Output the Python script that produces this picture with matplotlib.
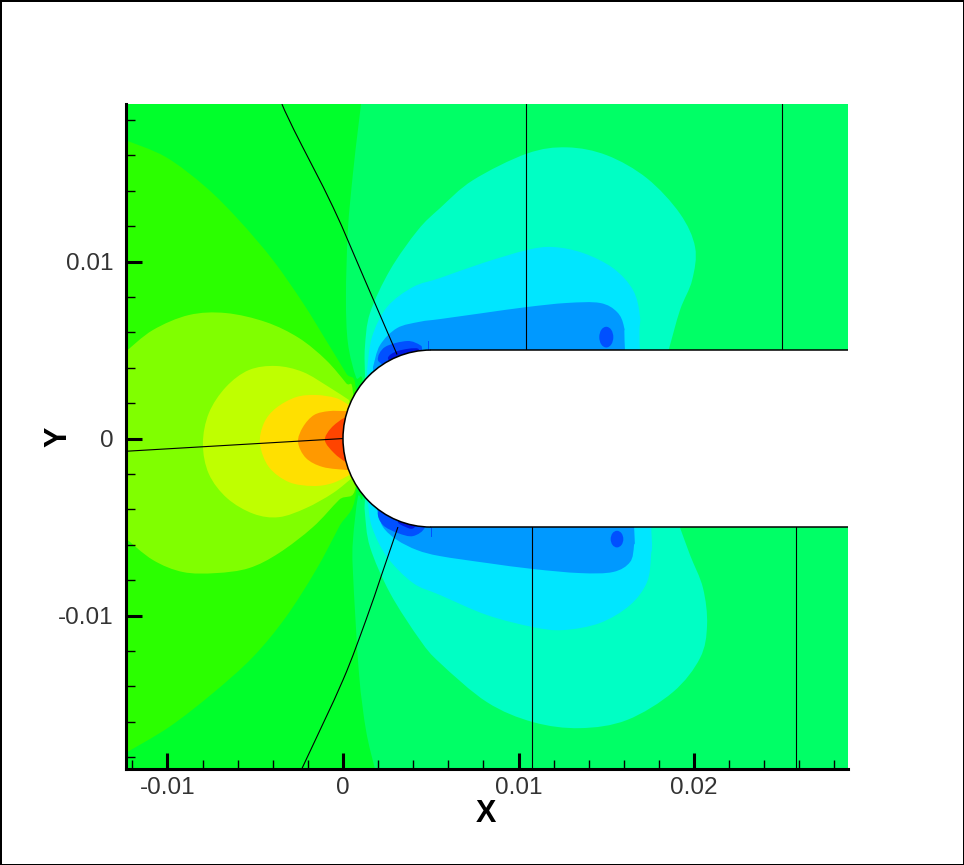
import numpy as np
import matplotlib
matplotlib.use("Agg")
import matplotlib.pyplot as plt
from matplotlib.patches import Ellipse, Circle, Rectangle, Arc, PathPatch
from matplotlib.path import Path

# ---- data, in units of 1e-3 -------------------------------------------------
band_a_x = [1.03, .85, .57, .28, .17, .28, .74, 1.14, 1.14, .85, .57, .57, .91, 1.31, 1.82]
band_a_y = [18.9, 17.43, 15.0, 11.78, 8.0, 5.4, 3.47, 3.0, -3.0, -3.3, -5.73, -7.6, -13.25, -16.47, -18.67]
band_b_x = [-12.4, -10.09, -7.81, -5.93, -3.99, -2.28, -.97, .17, .74, .74, -.23, -1.54, -3.25, -5.13, -7.41, -9.91, -12.4]
band_b_y = [16.86, 15.9, 14.2, 12.34, 10.08, 7.66, 5.56, 3.7, 2.74, -3.08, -5.0, -7.43, -10.08, -12.34, -14.38, -16.3, -17.77]
band_c_x = [-12.4, -10.83, -8.77, -6.67, -4.39, -2.51, -.97, .17, .57, .74, -.23, -1.71, -3.65, -5.36, -7.24, -9.12, -10.83, -12.4]
band_c_y = [4.89, 6.13, 6.98, 7.09, 6.58, 5.68, 4.44, 3.14, 2.57, -2.63, -3.47, -5.0, -6.47, -7.32, -7.6, -7.54, -6.86, -5.62]
band_d_x = [.34, -.8, -2.28, -3.82, -5.36, -6.67, -7.64, -7.98, -7.64, -6.6, -5.1, -3.65, -2.11, -.57, .57]
band_d_y = [2.18, 2.91, 3.76, 4.1, 3.87, 2.91, 1.44, -.3, -2.0, -3.37, -4.25, -4.44, -3.93, -3.08, -2.18]
band_e_x = [.34, -.4, -1.54, -2.68, -3.82, -4.5, -4.73, -4.22, -3.08, -1.71, -.57, .57]
band_e_y = [1.89, 2.29, 2.46, 2.34, 1.72, .88, -.3, -1.61, -2.46, -2.68, -2.51, -1.95]
band_f_x = [.5, .17, -.8, -1.65, -2.28, -2.56, -2.11, -1.14, .28, .5]
band_f_y = [1.55, 1.55, 1.55, 1.33, .65, -.2, -1.1, -1.61, -1.78, -1.78]
band_g_x = [.5, .06, -.68, -1.03, -.51, .17, .5]
band_g_y = [1.16, 1.16, .59, -.1, -.82, -1.33, -1.33]

aqua_x = [1.25, 1.25, 1.54, 2.68, 4.27, 5.53, 7.41, 10.48, 12.76, 15.04, 17.32, 19.2, 20.06, 19.89, 19.2, 18.52, 17.9,
          18.5, 19.15, 19.77, 20.51, 20.74, 20.34, 18.8, 16.18, 13.5, 10.83, 8.2, 5.53, 4.39, 2.68, 1.54, 1.25, 1.25]
aqua_y = [3.7, 5.17, 7.09, 9.52, 11.78, 13.02, 14.6, 16.1, 16.45, 16.0, 14.7, 12.7, 10.8, 8.95, 7.26, 4.9, 2.9,
          -3.2, -4.9, -6.58, -8.45, -10.54, -12.4, -14.32, -15.9, -16.36, -16.02, -14.89, -12.68, -11.38, -8.73, -6.13, -4.21, -3.47]
cyan_x = [1.37, 1.65, 2.51, 3.99, 5.53, 7.98, 10.48, 11.97, 13.68, 15.38, 16.52, 16.92, 16.92,
          17.55, 17.55, 17.32, 16.35, 14.64, 12.54, 10.83, 8.2, 5.53, 3.99, 2.51, 1.65, 1.42]
cyan_y = [3.87, 5.73, 7.43, 8.56, 9.07, 9.92, 10.65, 10.82, 10.48, 9.63, 8.39, 6.87, 4.9,
          -4.9, -6.58, -8.11, -9.41, -10.42, -10.82, -10.65, -9.97, -8.84, -8.16, -6.69, -5.0, -3.64]
blue_x = [1.71, 2.11, 3.08, 4.39, 5.53, 7.98, 10.48, 12.76, 14.64, 15.61, 16.01, 16.07,
          16.58, 16.58, 16.35, 15.38, 13.5, 10.83, 8.2, 5.53, 4.22, 3.08, 2.28, 1.94]
blue_y = [4.04, 5.28, 6.24, 6.6, 6.75, 7.09, 7.43, 7.66, 7.66, 7.15, 6.3, 4.9,
          -4.9, -6.02, -6.98, -7.54, -7.6, -7.37, -7.03, -6.64, -6.3, -5.73, -5.0, -4.04]
deep_top_x = [2.6, 1.99, 2.39, 3.65, 4.39, 4.50, 4.5]
deep_top_y = [4.0, 4.44, 5.17, 5.51, 5.28, 5.0, 4.0]
deep_bot_x = [2.6, 1.99, 2.28, 3.13, 3.99, 4.67, 4.5]
deep_bot_y = [-3.5, -4.15, -4.89, -5.34, -5.51, -5.0, -4.0]
navy_top_x = [3.0, 2.56, 3.13, 4.27, 4.27]
navy_top_y = [4.0, 4.55, 4.95, 5.08, 4.5]
navy_bot_x = [3.5, 3.13, 3.53, 3.99, 4.4]
navy_bot_y = [-4.4, -4.72, -4.98, -5.08, -4.6]

spot_x = [15.0, 15.61]
spot_y = [5.73, -5.68]
spot_w = [.80, .72]
spot_h = [1.17, .94]

nose_radius = 5.0

grid_1_x = [-3.48, -2.79, -.57, 1.25, 3.08]
grid_1_y = [18.9, 17.43, 13.08, 8.95, 4.75]
grid_2_x = [-12.4, 0.0]
grid_2_y = [-.72, 0.0]
grid_3_x = [-2.34, -2.11, 0.0, 1.31, 2.2, 3.13]
grid_3_y = [-18.64, -18.16, -13.64, -10.25, -7.7, -5.0]
grid_vertical_top = [10.4, 25.03]
grid_vertical_bot = [10.74, 25.82]
mark_x = [4.82, 5.0]
mark_top_y = [5.0, 5.5]
mark_bot_y = [-5.0, -5.5]

x_major = [-10, 0, 10, 20]
y_major = [-10, 0, 10]
x_labels = ["-0.01", "0", "0.01", "0.02"]
y_labels = ["-0.01", "0", "0.01"]
x_min, x_max = -12.39, 28.77
y_min, y_max = -18.64, 18.90

C_BASE = "#00FF66"
C_A, C_B, C_C, C_D, C_E, C_F, C_G = "#00FF2B", "#2BFF00", "#80FF00", "#BFFF00", "#FFE000", "#FF9900", "#FF4400"
C_AQUA, C_CYAN, C_BLUE, C_DEEP, C_NAVY = "#00FFC4", "#00E6FF", "#0099FF", "#0050FF", "#0018E0"

# ---- figure -----------------------------------------------------------------
fig = plt.figure(figsize=(9.64, 8.65), dpi=100)
fig.patch.set_facecolor("white")
fig.patch.set_edgecolor("black")
fig.patch.set_linewidth(2)
ax = fig.add_axes([125.5/964, 1-768.5/865, (848-125.5)/964, (768.5-104)/865])
ax.set_facecolor(C_BASE)
ax.set_xlim(x_min, x_max)
ax.set_ylim(y_min, y_max)


def curve_path(xs, ys, tail=(), closed=True):
    """Bezier outline running through the read points; tail points are straight."""
    pts = np.column_stack([xs, ys]).astype(float)
    verts, codes = [pts[0]], [Path.MOVETO]
    n = len(pts)
    for i in range(n - 1):
        p0 = pts[max(i - 1, 0)]
        p1, p2 = pts[i], pts[i + 1]
        p3 = pts[min(i + 2, n - 1)]
        verts += [p1 + (p2 - p0) / 6, p2 - (p3 - p1) / 6, p2]
        codes += [Path.CURVE4] * 3
    for q in tail:
        verts.append(np.array(q, float))
        codes.append(Path.LINETO)
    if closed:
        verts.append(pts[0])
        codes.append(Path.CLOSEPOLY)
    return Path(np.array(verts), codes)


def band(xs, ys, color, tail=()):
    ax.add_patch(PathPatch(curve_path(xs, ys, tail=tail), fc=color, ec="none", lw=0, zorder=2))


def line(xs, ys):
    ax.add_patch(PathPatch(curve_path(xs, ys, closed=False), fc="none", ec="black", lw=0.8, zorder=3))


band(band_a_x, band_a_y, C_A, tail=[(x_min - 1, y_min - 1), (x_min - 1, y_max + 1)])
band(band_b_x, band_b_y, C_B)
band(band_c_x, band_c_y, C_C)
band(band_d_x, band_d_y, C_D)
band(band_e_x, band_e_y, C_E)
band(band_f_x, band_f_y, C_F)
band(band_g_x, band_g_y, C_G)
band(aqua_x, aqua_y, C_AQUA)
band(cyan_x, cyan_y, C_CYAN)
band(blue_x, blue_y, C_BLUE)
band(deep_top_x, deep_top_y, C_DEEP)
band(deep_bot_x, deep_bot_y, C_DEEP)
band(navy_top_x, navy_top_y, C_NAVY)
band(navy_bot_x, navy_bot_y, C_NAVY)
for sx, sy, sw, sh in zip(spot_x, spot_y, spot_w, spot_h):
    ax.add_patch(Ellipse((sx, sy), sw, sh, color=C_DEEP, lw=0, zorder=2))
ax.plot([mark_x[0]] * 2, mark_top_y, color=C_DEEP, lw=0.7, zorder=2.5)
ax.plot([mark_x[1]] * 2, mark_bot_y, color=C_DEEP, lw=0.7, zorder=2.5)

# grid lines
line(grid_1_x, grid_1_y)
line(grid_2_x, grid_2_y)
line(grid_3_x, grid_3_y)
for vx in grid_vertical_top:
    ax.plot([vx, vx], [nose_radius, y_max], color="black", lw=0.8, zorder=3)
for vx in grid_vertical_bot:
    ax.plot([vx, vx], [y_min, -nose_radius], color="black", lw=0.8, zorder=3)

# the blunt body
ax.add_patch(Circle((nose_radius, 0), nose_radius, fc="white", ec="none", zorder=4))
ax.add_patch(Rectangle((nose_radius, -nose_radius), x_max - nose_radius, 2*nose_radius,
                       fc="white", ec="none", zorder=4))
ax.add_patch(Arc((nose_radius, 0), 2*nose_radius, 2*nose_radius, theta1=90, theta2=270,
                 color="black", lw=1.1, zorder=5))
ax.plot([nose_radius, x_max], [nose_radius, nose_radius], color="black", lw=1.1, zorder=5)
ax.plot([nose_radius, x_max], [-nose_radius, -nose_radius], color="black", lw=1.1, zorder=5)

# axes
for s in ["top", "right"]:
    ax.spines[s].set_visible(False)
for s in ["left", "bottom"]:
    ax.spines[s].set_linewidth(2.2)
    ax.spines[s].set_zorder(8)
ax.xaxis.set_zorder(7)
ax.yaxis.set_zorder(7)
ax.set_xticks(x_major)
ax.set_xticklabels(x_labels)
ax.set_yticks(y_major)
ax.set_yticklabels(y_labels)
ax.set_xticks(np.arange(-12, 29, 2), minor=True)
ax.set_yticks(np.arange(-18, 19, 2), minor=True)
ax.tick_params(which="major", direction="in", length=11.5, width=2.2, labelsize=17.5,
               labelfontfamily="Liberation Sans", labelcolor="#333333")
ax.tick_params(axis="x", which="major", pad=6)
ax.tick_params(axis="y", which="major", pad=8.5)
ax.tick_params(which="minor", direction="in", length=6.5, width=1)

fig.text(486/964, 1-814/865, "X", ha="center", va="center", fontsize=22,
         family="Liberation Sans", weight="bold", color="black")
fig.text(58/964, 1-436.5/865, "Y", ha="center", va="center", rotation=90, fontsize=22,
         family="Liberation Sans", weight="bold", color="black")

fig.savefig("out.png", dpi=100, facecolor="white", edgecolor="black")
